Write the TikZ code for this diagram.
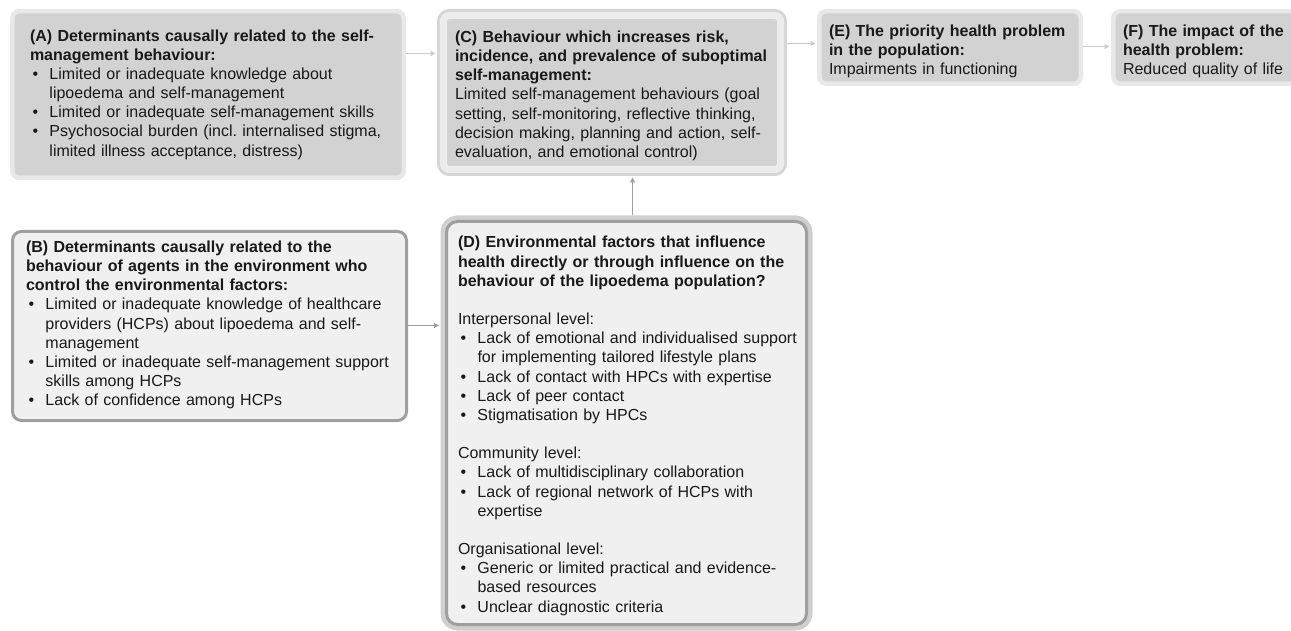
\documentclass[tikz,border=0pt]{standalone}
\usepackage{fontspec}
\setmainfont{Liberation Sans}
\usetikzlibrary{positioning, arrows.meta}
\frenchspacing

\newcommand{\bul}{\par\hangindent=19.5pt\hangafter=1\noindent\makebox[19.5pt][l]{\hspace{2.5pt}\textbullet}}
\newcommand{\gap}{\par\vspace{19.5pt}}

\begin{document}
\begin{tikzpicture}[x=1pt, y=1pt, node distance=30pt,
	box/.style={rectangle, align=left, anchor=north west, inner ysep=0pt, text=black!90, font=\fontsize{16}{19.1}\selectfont, execute at begin node={\rightskip=-10pt plus 1fil}},
	prim/.style={box, fill=gray!35, draw=gray!18, line width=4.5pt, outer sep=2.25pt, rounded corners=7pt},
	behv/.style={box, fill=gray!35, draw=gray!15, line width=7pt, outer sep=6.5pt, rounded corners=6pt, preaction={draw=gray!32, line width=13pt}},
	agnt/.style={box, fill=gray!12, draw=gray!75, line width=3pt, outer sep=1.5pt, rounded corners=9pt},
	envr/.style={agnt, outer sep=6pt, rounded corners=11pt, preaction={draw=gray!38, line width=12pt}},
	lnk/.style={-{Triangle[length=5pt, width=5pt]}, line width=1.4pt, draw=gray!40, shorten >=1.5pt},
	lnkd/.style={lnk, draw=gray!75}]
	\useasboundingbox (0,0) rectangle (1291,-631);
		\node[prim, inner xsep=17.75pt, text width=356pt, text height=30.25pt, text depth=136.25pt] (detA) at (10,-9) {\textbf{(A) Determinants causally related to the self-\newline management behaviour:}
			\bul Limited or inadequate knowledge about\newline lipoedema and self-management
			\bul Limited or inadequate self-management skills
			\bul Psychosocial burden (incl. internalised stigma,\newline limited illness acceptance, distress)\par};
		\node[behv, inner xsep=11.5pt, text width=314pt, text height=27.2pt, text depth=126.8pt] (behC) [right=31pt of detA.north east, anchor=north west] {\textbf{(C) Behaviour which increases risk,\newline incidence, and prevalence of suboptimal\newline self-management:}\par
			Limited self-management behaviours (goal\newline setting, self-monitoring, reflective thinking,\newline decision making, planning and action, self-\newline evaluation, and emotional control)};
		\node[prim, inner xsep=9.75pt, text width=242pt, text height=25.25pt, text depth=47.25pt] (probE) [right=of behC.north east, anchor=north west] {\textbf{(E) The priority health problem\newline in the population:}\newline Impairments in functioning};
		\node[prim, inner xsep=9.75pt, text width=170pt, text height=25.25pt, text depth=47.25pt] (impF) [right=28pt of probE.north east, anchor=north west] {\textbf{(F) The impact of the\newline health problem:}\newline Reduced quality of life};
		\node[agnt, inner xsep=13.5pt, text width=367pt, text height=21.2pt, text depth=167.8pt] (detB) [below=50pt of detA.south west, anchor=north west, xshift=1pt] {\textbf{(B) Determinants causally related to the\newline behaviour of agents in the environment who\newline control the environmental factors:}
			\bul Limited or inadequate knowledge of healthcare\newline providers (HCPs) about lipoedema and self-\newline management
			\bul Limited or inadequate self-management support\newline skills among HCPs
			\bul Lack of confidence among HCPs\par};
		\node[envr, inner xsep=11.5pt, text width=337pt, text height=26.5pt, text depth=376.5pt] (envD) [below=39.5pt of behC.south west, anchor=north west, xshift=3.5pt] {\textbf{(D) Environmental factors that influence\newline health directly or through influence on the\newline behaviour of the lipoedema population?}
			\gap Interpersonal level:
			\bul Lack of emotional and individualised support\newline for implementing tailored lifestyle plans
			\bul Lack of contact with HPCs with expertise
			\bul Lack of peer contact
			\bul Stigmatisation by HPCs
			\gap Community level:
			\bul Lack of multidisciplinary collaboration
			\bul Lack of regional network of HCPs with\newline expertise
			\gap Organisational level:
			\bul Generic or limited practical and evidence-\newline based resources
			\bul Unclear diagnostic criteria\par};
		% rows and column of the arrows
		\coordinate (yAC) at (0,-53.5); \coordinate (yCE) at (0,-43.5);
		\coordinate (yEF) at (0,-46.5); \coordinate (yBD) at (0,-325.5);
		\coordinate (xDC) at (632.5,0);
		\draw[lnk] (detA.east |- yAC) -- (behC.west |- yAC);
		\draw[lnk] (behC.east |- yCE) -- (probE.west |- yCE);
		\draw[lnk] (probE.east |- yEF) -- (impF.west |- yEF);
		\draw[lnkd] (detB.east |- yBD) -- (envD.west |- yBD);
		\draw[lnkd] (envD.north -| xDC) -- (behC.south -| xDC);
	\end{tikzpicture}
\end{document}
